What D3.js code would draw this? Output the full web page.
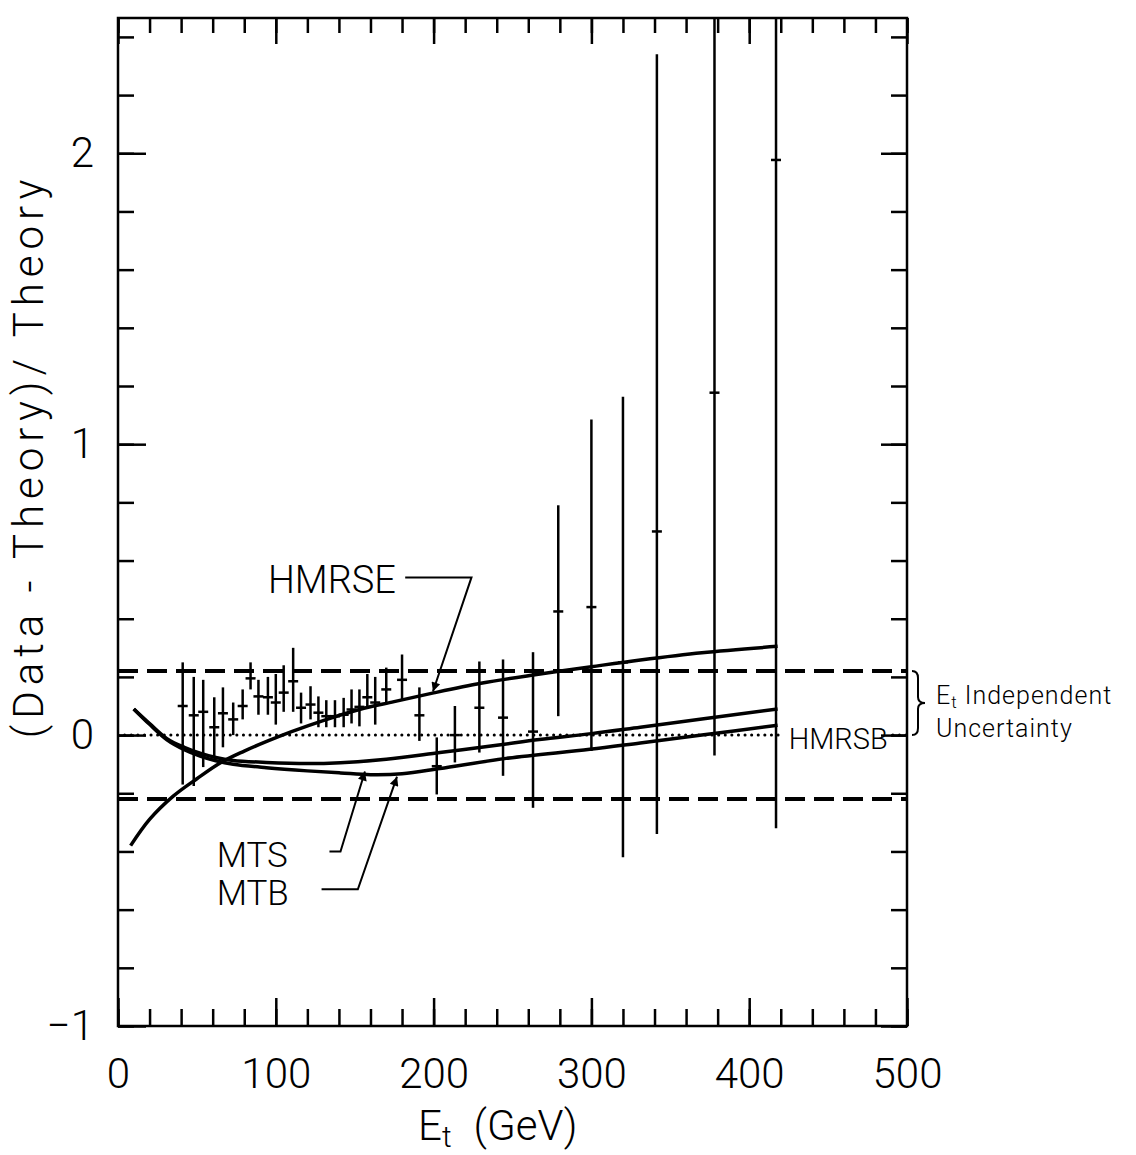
<!DOCTYPE html>
<html>
<head>
<meta charset="utf-8">
<script src="https://cdn.jsdelivr.net/npm/d3@7"></script>
<style>
  body { margin: 0; background: #fff; }
  text { font-family: Roboto, "Liberation Sans", sans-serif; font-weight: 300; fill: #000; }
</style>
</head>
<body>
<div id="chart"></div>
<script>
// measured points, (Data - Theory)/Theory vs Et
var energies = [41, 48, 54, 61, 66.5, 73, 79, 84, 89, 95, 100, 105, 111, 116, 122, 127, 132, 137.5, 143, 148, 153, 158, 163, 170, 180, 191, 202, 213.5, 229, 244, 263, 279, 300, 320, 341.5, 378, 417];
var ratios = [0.10, 0.068, 0.08, 0.027, 0.075, 0.054, 0.10, 0.195, 0.133, 0.13, 0.112, 0.146, 0.185, 0.094, 0.105, 0.077, 0.065, 0.065, 0.07, 0.088, 0.097, 0.13, 0.112, 0.157, 0.19, 0.068, -0.107, 0.0, 0.094, 0.06, 0.012, 0.425, 0.44, 0.25, 0.70, 1.177, 1.977];
var errLow = [-0.17, -0.175, -0.11, -0.08, -0.042, 0.0, 0.054, 0.157, 0.07, 0.07, 0.036, 0.08, 0.08, 0.04, 0.054, 0.027, 0.027, 0.027, 0.027, 0.04, 0.03, 0.10, 0.036, 0.112, 0.123, -0.02, -0.204, -0.094, -0.06, -0.14, -0.25, 0.065, -0.055, -0.42, -0.34, -0.07, -0.32];
var errHigh = [0.25, 0.20, 0.19, 0.13, 0.164, 0.112, 0.157, 0.25, 0.19, 0.20, 0.21, 0.24, 0.30, 0.146, 0.168, 0.133, 0.12, 0.12, 0.128, 0.157, 0.157, 0.21, 0.20, 0.232, 0.277, 0.164, -0.008, 0.10, 0.253, 0.26, 0.285, 0.79, 1.085, 1.163, 2.34, 2.8, 2.8];

// theory curves relative to HMRSB
var hmrseEt = [8, 20, 35, 50, 65, 80, 95, 110, 130, 153, 175, 200, 230, 261, 300, 331, 370, 418];
var hmrseRatio = [-0.38, -0.29, -0.21, -0.15, -0.095, -0.055, -0.02, 0.012, 0.05, 0.088, 0.115, 0.145, 0.178, 0.205, 0.235, 0.258, 0.283, 0.305];
var mtsEt = [10, 20, 31, 42, 52, 62, 73, 94, 120, 141, 170, 204, 240, 267, 300, 331, 370, 418];
var mtsRatio = [0.09, 0.04, -0.012, -0.042, -0.062, -0.077, -0.087, -0.094, -0.098, -0.095, -0.083, -0.06, -0.035, -0.015, 0.005, 0.027, 0.055, 0.09];
var mtbEt = [10, 20, 31, 42, 52, 62, 73, 94, 120, 141, 160, 180, 204, 246, 299, 331, 370, 418];
var mtbRatio = [0.09, 0.037, -0.016, -0.05, -0.072, -0.088, -0.1, -0.112, -0.123, -0.13, -0.136, -0.133, -0.115, -0.08, -0.049, -0.027, 0.0, 0.034];

var uncertainty = 0.22;

var xTicks = [0, 100, 200, 300, 400, 500];
var yTicks = [-1, 0, 1, 2];
var yTickLabels = ['\u22121', '0', '1', '2'];

(function(d3) {

  'use strict';

  var Chart = function(element) {
    this.element = element;
    this.width = 1136;
    this.height = 1155;
    this.left = 118;
    this.right = 907;
    this.top = 18;
    this.bottom = 1026;
    this.svg = null;
  };

  Chart.prototype = {

    init: function() {
      this.setSvg();
      this.setScales();
      this.drawBand();
      this.drawCurves();
      this.drawPoints();
      this.drawAxes();
      this.drawLabels();
    },

    setSvg: function() {
      this.svg = d3.select(this.element)
        .append('svg')
        .attr('width', this.width)
        .attr('height', this.height);

      this.svg.append('defs')
        .append('clipPath')
        .attr('id', 'plot')
        .append('rect')
        .attr('x', this.left)
        .attr('y', this.top)
        .attr('width', this.right - this.left)
        .attr('height', this.bottom - this.top);

      this.svg.select('defs')
        .append('marker')
        .attr('id', 'head')
        .attr('viewBox', '0 0 10 10')
        .attr('refX', 10)
        .attr('refY', 5)
        .attr('markerUnits', 'userSpaceOnUse')
        .attr('markerWidth', 16)
        .attr('markerHeight', 9)
        .attr('orient', 'auto')
        .append('path')
        .attr('d', 'M0,0L10,5L0,10z')
        .style('fill', '#000');
    },

    setScales: function() {
      this.x = d3.scaleLinear().domain([0, 500]).range([this.left, this.right]);
      this.y = d3.scaleLinear().domain([-1, 2.465]).range([this.bottom, this.top]);
    },

    drawBand: function() {
      var g = this.svg.append('g').attr('clip-path', 'url(#plot)');
      [uncertainty, -uncertainty].forEach(function(v) {
        g.append('line')
          .attr('x1', this.x(0)).attr('x2', this.x(500))
          .attr('y1', this.y(v)).attr('y2', this.y(v))
          .style('stroke', '#000')
          .style('stroke-width', 4)
          .style('stroke-dasharray', '20,9');
      }.bind(this));

      // HMRSB reference, broken round its label
      [[0, 421], [491, 500]].forEach(function(seg) {
        g.append('line')
          .attr('x1', this.x(seg[0])).attr('x2', this.x(seg[1]))
          .attr('y1', this.y(0)).attr('y2', this.y(0))
          .style('stroke', '#000')
          .style('stroke-width', 3)
          .style('stroke-linecap', 'round')
          .style('stroke-dasharray', '0.1,6.5');
      }.bind(this));
    },

    drawCurves: function() {
      var line = d3.line()
        .x(function(d) { return this.x(d[0]); }.bind(this))
        .y(function(d) { return this.y(d[1]); }.bind(this))
        .curve(d3.curveCatmullRom.alpha(0.5));

      [[hmrseEt, hmrseRatio], [mtsEt, mtsRatio], [mtbEt, mtbRatio]].forEach(function(c) {
        this.svg.append('path')
          .datum(d3.zip(c[0], c[1]))
          .attr('d', line)
          .style('fill', 'none')
          .style('stroke', '#000')
          .style('stroke-width', 3.5);
      }.bind(this));
    },

    drawPoints: function() {
      var pts = energies.map(function(e, i) {
        return { et: e, r: ratios[i], lo: errLow[i], hi: errHigh[i] };
      });

      var g = this.svg.append('g').attr('clip-path', 'url(#plot)');
      var pt = g.selectAll('g')
        .data(pts)
        .enter()
        .append('g');

      pt.append('line')
        .attr('x1', function(d) { return this.x(d.et); }.bind(this))
        .attr('x2', function(d) { return this.x(d.et); }.bind(this))
        .attr('y1', function(d) { return this.y(d.lo); }.bind(this))
        .attr('y2', function(d) { return this.y(d.hi); }.bind(this))
        .style('stroke', '#000')
        .style('stroke-width', 2.5);

      pt.append('line')
        .attr('x1', function(d) { return this.x(d.et) - 5; }.bind(this))
        .attr('x2', function(d) { return this.x(d.et) + 5; }.bind(this))
        .attr('y1', function(d) { return this.y(d.r); }.bind(this))
        .attr('y2', function(d) { return this.y(d.r); }.bind(this))
        .style('stroke', '#000')
        .style('stroke-width', 2.5);
    },

    drawAxes: function() {
      var svg = this.svg;
      var minorX = d3.range(0, 501, 20);
      var minorY = d3.range(-1, 2.41, 0.2);

      var put = function(axis, tx, ty) {
        var g = svg.append('g')
          .attr('transform', 'translate(' + tx + ',' + ty + ')')
          .call(axis);
        g.select('.domain').remove();
        g.selectAll('line').style('stroke', '#000').style('stroke-width', 2.5);
        return g;
      };

      put(d3.axisBottom(this.x).tickValues(minorX).tickSize(-17).tickFormat(''), 0, this.bottom);
      put(d3.axisTop(this.x).tickValues(minorX).tickSize(-15).tickFormat(''), 0, this.top);
      put(d3.axisLeft(this.y).tickValues(minorY).tickSize(-16).tickFormat(''), this.left, 0);
      put(d3.axisRight(this.y).tickValues(minorY).tickSize(-16).tickFormat(''), this.right, 0);
      put(d3.axisTop(this.x).tickValues(xTicks).tickSize(-26).tickFormat(''), 0, this.top);
      put(d3.axisRight(this.y).tickValues(yTicks).tickSize(-26).tickFormat(''), this.right, 0);

      var bx = put(d3.axisBottom(this.x).tickValues(xTicks).tickSize(-28).tickPadding(32)
        .tickFormat(d3.format('d')), 0, this.bottom);
      bx.selectAll('text').style('font-size', '42px').style('font-family', null);

      var ly = put(d3.axisLeft(this.y).tickValues(yTicks).tickSize(-28).tickPadding(24)
        .tickFormat(function(d, i) { return yTickLabels[i]; }), this.left, 0);
      ly.selectAll('text').style('font-size', '42px').style('font-family', null);

      svg.append('rect')
        .attr('x', this.left).attr('y', this.top)
        .attr('width', this.right - this.left)
        .attr('height', this.bottom - this.top)
        .style('fill', 'none')
        .style('stroke', '#000')
        .style('stroke-width', 2.5);

      var xt = svg.append('text')
        .attr('x', 418)
        .attr('y', 1140)
        .style('font-size', '42px');
      xt.append('tspan').text('E');
      xt.append('tspan').attr('dy', 7).style('font-size', '30px').text('t');
      xt.append('tspan').attr('dy', -7).attr('dx', 22).text('(GeV)');

      svg.append('text')
        .attr('transform', 'translate(43,' + this.y(0.96) + ') rotate(-90)')
        .attr('text-anchor', 'middle')
        .style('font-size', '42px')
        .style('letter-spacing', '6px')
        .text('(Data - Theory)/ Theory');
    },

    drawLabels: function() {
      var x = this.x, y = this.y, svg = this.svg;
      var leader = d3.line()
        .x(function(d) { return x(d[0]); })
        .y(function(d) { return y(d[1]); });

      var notes = [
        { text: 'HMRSE', at: [95, 0.49], size: 38, path: [[182, 0.542], [224, 0.542], [199.6, 0.15]] },
        { text: 'MTS', at: [62.5, -0.455], size: 35, path: [[134, -0.40], [141, -0.40], [156.5, -0.125]] },
        { text: 'MTB', at: [62.5, -0.585], size: 35, path: [[129, -0.53], [152, -0.53], [176.8, -0.143]] }
      ];

      notes.forEach(function(n) {
        svg.append('text')
          .attr('x', x(n.at[0]))
          .attr('y', y(n.at[1]))
          .style('font-size', n.size + 'px')
          .text(n.text);
        svg.append('path')
          .attr('d', leader(n.path))
          .attr('marker-end', 'url(#head)')
          .style('fill', 'none')
          .style('stroke', '#000')
          .style('stroke-width', 2);
      });

      svg.append('text')
        .attr('x', x(425))
        .attr('y', y(-0.049))
        .style('font-size', '29px')
        .text('HMRSB');

      // brace for the Et independent band
      var bx = this.right + 5;
      var t = y(uncertainty), b = y(0), m = (t + b) / 2;
      svg.append('path')
        .attr('d', 'M' + bx + ',' + t +
          'Q' + (bx + 6) + ',' + t + ' ' + (bx + 6) + ',' + (t + 7) +
          'L' + (bx + 6) + ',' + (m - 6) +
          'Q' + (bx + 6) + ',' + m + ' ' + (bx + 13) + ',' + m +
          'Q' + (bx + 6) + ',' + m + ' ' + (bx + 6) + ',' + (m + 6) +
          'L' + (bx + 6) + ',' + (b - 7) +
          'Q' + (bx + 6) + ',' + b + ' ' + bx + ',' + b)
        .style('fill', 'none')
        .style('stroke', '#000')
        .style('stroke-width', 2);

      var e = svg.append('text')
        .attr('x', 936)
        .attr('y', m + 1)
        .style('font-size', '25px')
        .style('letter-spacing', '1px');
      e.append('tspan').text('E');
      e.append('tspan').attr('dy', 4).style('font-size', '17px').text('t');
      e.append('tspan').attr('dy', -4).text(' Independent');

      svg.append('text')
        .attr('x', 936)
        .attr('y', m + 34)
        .style('font-size', '25px')
        .style('letter-spacing', '1px')
        .text('Uncertainty');
    }

  };

  var chart = new Chart('#chart');
  chart.init();

})(d3);
</script>
</body>
</html>
